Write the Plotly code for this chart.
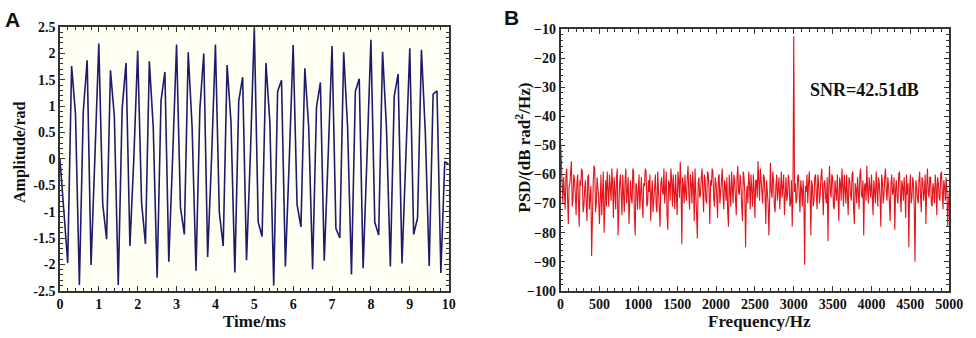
import plotly.graph_objects as go

# ---------------- Data ----------------
# Panel A: phase signal sampled every 0.1 ms
time_ms = [round(0.1 * i, 1) for i in range(101)]
amplitude = [
    0.0, -0.95, -1.97, 1.76, 0.85, -2.39, 0.9, 1.87, -2.01, 0.05,
    2.19, -0.85, -1.52, 1.68, 0.8, -2.39, 0.95, 1.82, -1.65, 0.0,
    2.05, -0.83, -1.61, 1.85, 0.6, -2.25, 1.1, 1.65, -1.95, 0.05,
    2.17, -0.92, -1.43, 2.02, 0.6, -2.12, 0.95, 2.0, -1.86, 0.0,
    2.17, -1.01, -1.65, 1.78, 0.7, -2.15, 1.1, 1.55, -1.92, 0.1,
    2.49, -1.2, -1.47, 1.82, 0.7, -2.4, 1.28, 1.49, -2.04, 0.0,
    2.16, -0.86, -1.29, 1.72, 0.6, -2.09, 0.98, 1.45, -1.93, 0.05,
    2.14, -1.32, -1.5, 2.02, 0.6, -2.19, 1.28, 1.52, -2.07, 0.05,
    2.26, -1.2, -1.44, 2.03, 0.6, -2.04, 1.19, 1.61, -1.98, 0.05,
    2.1, -1.43, -1.12, 2.07, 0.5, -2.03, 1.23, 1.29, -2.16, -0.05,
    -0.1,
]

# Panel B: PSD every 10 Hz (0 .. 5000 Hz)
freq_hz = [10 * i for i in range(501)]
psd_db = [
    -48, -58, -66, -70, -61, -65, -72, -60, -58, -68,
    -77, -64, -63, -59, -55.5, -71, -69, -60, -62, -67,
    -74, -63, -60, -69, -78, -62, -64, -58, -59, -73,
    -71, -65, -62, -70, -76, -61, -60, -72, -66, -64,
    -88, -66, -63, -57, -58, -73, -70, -61, -64, -68,
    -77, -62, -60, -74, -67, -59, -80, -66, -62, -71,
    -59, -65, -71, -60, -64, -69, -58, -63, -75, -61,
    -66, -72, -61, -58, -81, -67, -63, -60, -69, -74,
    -60, -65, -73, -62, -58, -70, -66, -61, -77, -64,
    -62, -68, -70, -58, -59, -74, -81, -63, -64, -72,
    -67, -60, -72, -65, -61, -69, -75, -63, -64, -58,
    -59, -71, -70, -62, -66, -60, -76, -67, -62, -73,
    -68, -62, -60, -71, -73, -59, -64, -69, -78, -63,
    -61, -66, -67, -58, -70, -65, -59, -74, -79, -62,
    -63, -69, -58, -62, -71, -60, -65, -72, -60, -66,
    -74, -59, -62, -68, -55.6, -64, -84, -61, -64, -70,
    -60, -66, -69, -61, -57, -67, -72, -60, -63, -70,
    -59, -64, -76, -58, -65, -71, -82, -63, -61, -68,
    -67, -61, -58, -66, -73, -60, -62, -69, -70, -59,
    -60, -65, -77, -62, -64, -58, -59, -68, -71, -61,
    -63, -68, -75, -61, -60, -70, -66, -59, -58, -67,
    -72, -62, -64, -69, -61, -73, -78, -60, -65, -71,
    -59, -64, -70, -60, -62, -68, -74, -61, -57, -66,
    -67, -60, -63, -71, -76, -59, -61, -66, -85, -68,
    -64, -70, -59, -63, -72, -60, -66, -71, -60, -65,
    -75, -62, -62, -68, -55.4, -63, -69, -58, -63, -67,
    -70, -60, -61, -67, -77, -62, -65, -70, -81, -61,
    -56, -66, -68, -59, -62, -71, -73, -64, -60, -69,
    -66, -61, -72, -63, -59, -68, -64, -60, -74, -65,
    -61, -69, -67, -60, -63, -71, -70, -62, -78, -64,
    -12.5, -66, -63, -70, -68, -61, -60, -67, -73, -62,
    -65, -71, -62, -68, -91, -64, -66, -60, -70, -63,
    -59, -66, -81, -62, -64, -71, -69, -61, -60, -67,
    -72, -60, -63, -70, -67, -61, -58, -65, -74, -63,
    -62, -68, -70, -61, -83, -64, -57, -66, -68, -60,
    -61, -71, -72, -62, -65, -69, -60, -66, -76, -61,
    -63, -69, -58, -64, -71, -60, -66, -70, -60, -65,
    -74, -61, -62, -67, -69, -60, -59, -72, -77, -63,
    -65, -70, -61, -66, -72, -60, -58, -67, -68, -62,
    -81, -64, -63, -69, -57, -65, -70, -61, -64, -68,
    -60, -66, -74, -62, -66, -70, -59, -64, -71, -61,
    -63, -68, -78, -60, -62, -70, -67, -61, -58, -66,
    -69, -61, -64, -70, -76, -63, -60, -67, -66, -61,
    -79, -65, -62, -68, -70, -60, -59, -66, -73, -62,
    -64, -69, -61, -66, -75, -60, -67, -63, -85, -65,
    -60, -70, -68, -61, -63, -72, -90, -62, -64, -68,
    -70, -62, -59, -67, -73, -61, -62, -69, -66, -60,
    -77, -64, -58, -66, -68, -61, -61, -70, -71, -63,
    -65, -70, -60, -64, -74, -61, -63, -68, -69, -60,
    -59, -66, -72, -62, -64, -69, -61, -65, -78, -70,
    -66,
]

a_xticks = list(range(0, 11))
a_yticks = [2.5, 2, 1.5, 1, 0.5, 0, -0.5, -1, -1.5, -2, -2.5]
b_xticks = list(range(0, 5001, 500))
b_yticks = list(range(-10, -101, -10))

snr_text = "SNR=42.51dB"

# ---------------- Figure ----------------
W, H = 976, 338
SERIF = "Liberation Serif, Times New Roman, serif"
SANS = "Liberation Sans, Arial, sans-serif"


def px_x(p):
    return p / W


def px_y(p):
    return 1 - p / H


fig = go.Figure()
fig.add_trace(go.Scatter(x=time_ms, y=amplitude, mode="lines",
                         line=dict(color="#1d1b6b", width=1.6),
                         xaxis="x", yaxis="y", showlegend=False))
fig.add_trace(go.Scatter(x=freq_hz, y=psd_db, mode="lines",
                         line=dict(color="#e3141b", width=1.1),
                         xaxis="x2", yaxis="y2", showlegend=False))

tickfont = dict(family=SERIF, size=14, color="#111", weight="bold")
axis_common = dict(showline=True, linecolor="#333", linewidth=1.5, mirror="ticks",
                   ticks="inside", ticklen=5, tickwidth=1.2, tickcolor="#333",
                   showgrid=False, zeroline=False, tickfont=tickfont)

fig.update_layout(
    width=W, height=H, margin=dict(l=0, r=0, t=0, b=0),
    paper_bgcolor="white", plot_bgcolor="white",
    xaxis=dict(domain=[px_x(57), px_x(453)], range=[0, 10], tickvals=a_xticks,
               minor=dict(ticks="inside", ticklen=3, dtick=0.2, tickcolor="#333"),
               anchor="y", **axis_common),
    yaxis=dict(domain=[px_y(297), px_y(21)], range=[-2.5, 2.5], tickvals=a_yticks,
               ticktext=[str(v) for v in a_yticks],
               minor=dict(ticks="inside", ticklen=3, dtick=0.1, tickcolor="#333"),
               anchor="x", **axis_common),
    xaxis2=dict(domain=[px_x(567), px_x(963)], range=[0, 5000], tickvals=b_xticks,
                minor=dict(ticks="inside", ticklen=3, dtick=100, tickcolor="#333"),
                anchor="y2", **axis_common),
    yaxis2=dict(domain=[px_y(297), px_y(23)], range=[-100, -10], tickvals=b_yticks,
                minor=dict(ticks="inside", ticklen=3, dtick=2, tickcolor="#333"),
                anchor="x2", **axis_common),
)

# background tint of panel A
fig.add_shape(type="rect", xref="x domain", yref="y domain", x0=0, x1=1, y0=0, y1=1,
              fillcolor="#fffff4", line=dict(width=0), layer="below")

title_font = dict(family=SERIF, size=17, color="#111", weight="bold")
ann = [
    dict(text="A", x=px_x(9), y=px_y(13), font=dict(family=SANS, size=21, color="#111", weight="bold")),
    dict(text="B", x=px_x(517), y=px_y(11), font=dict(family=SANS, size=21, color="#111", weight="bold")),
    dict(text="Time/ms", x=px_x(255), y=px_y(329.5), font=title_font),
    dict(text="Frequency/Hz", x=px_x(770), y=px_y(329.5), font=title_font),
    dict(text="Amplitude/rad", x=px_x(17), y=px_y(152), textangle=-90,
         font=dict(family=SERIF, size=16, color="#111", weight="bold")),
    dict(text="PSD/(dB rad<sup>2</sup>/Hz)", x=px_x(529), y=px_y(147), textangle=-90, font=title_font),
]
for a in ann:
    fig.add_annotation(xref="paper", yref="paper", showarrow=False,
                       xanchor="center", yanchor="middle", **a)

fig.add_annotation(text=snr_text, x=3915, y=-30.9, xref="x2", yref="y2", showarrow=False,
                   font=dict(family=SERIF, size=18, color="#111", weight="bold"))

fig.write_html("out.html", config={"displayModeBar": False},
               post_script="document.body.style.margin='0';document.body.style.overflow='hidden';")
